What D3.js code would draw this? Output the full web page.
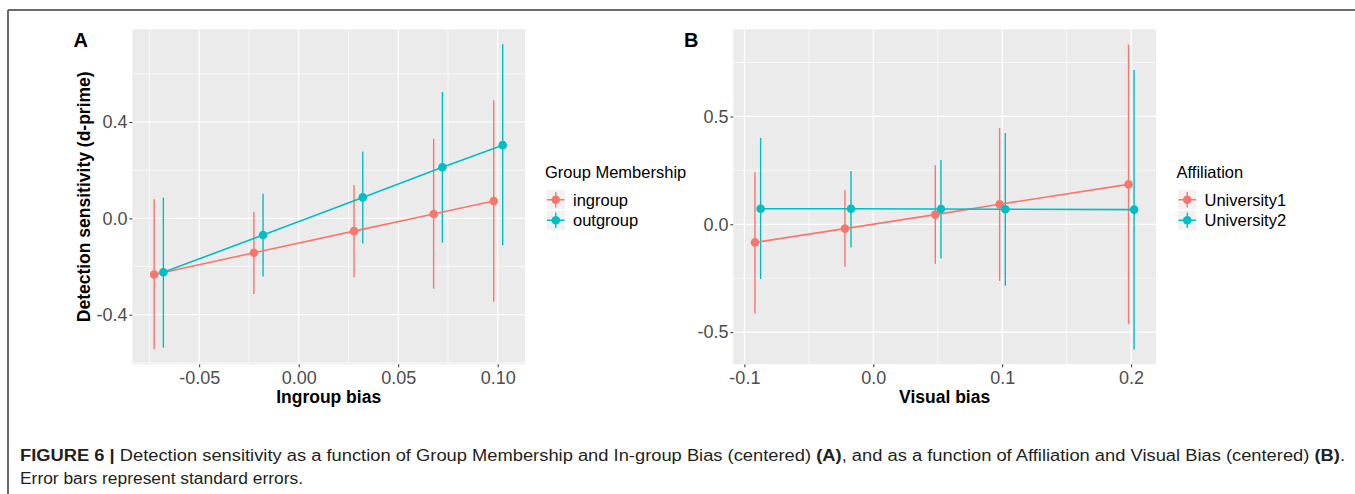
<!DOCTYPE html>
<html><head><meta charset="utf-8">
<script src="https://cdn.jsdelivr.net/npm/d3@7"></script>
<style>
html,body{margin:0;padding:0;background:#fff;}
svg{display:block;font-family:"Liberation Sans",Arial,sans-serif;}
</style></head>
<body>
<svg id="chart" width="1355" height="494"></svg>
<script>
// ---------- Data ----------
// Panel A: Group Membership
const groupsA = ["ingroup", "outgroup"];
const xTicksA = [-0.05, 0.00, 0.05, 0.10];
const xTickLabelsA = ["-0.05", "0.00", "0.05", "0.10"];
const yTicksA = [-0.4, 0.0, 0.4];
const yTickLabelsA = ["-0.4", "0.0", "0.4"];
const ingroupX  = [-0.0726, -0.0225, 0.0278, 0.0678, 0.0980];
const ingroupY  = [-0.233, -0.143, -0.053, 0.018, 0.072];
const ingroupLo = [-0.544, -0.314, -0.245, -0.292, -0.346];
const ingroupHi = [0.079, 0.027, 0.138, 0.329, 0.490];
const outgroupX  = [-0.0680, -0.0179, 0.0322, 0.0722, 0.1025];
const outgroupY  = [-0.224, -0.069, 0.087, 0.212, 0.304];
const outgroupLo = [-0.537, -0.241, -0.104, -0.101, -0.112];
const outgroupHi = [0.086, 0.102, 0.278, 0.525, 0.723];

// Panel B: Affiliation
const groupsB = ["University1", "University2"];
const xTicksB = [-0.1, 0.0, 0.1, 0.2];
const xTickLabelsB = ["-0.1", "0.0", "0.1", "0.2"];
const yTicksB = [-0.5, 0.0, 0.5];
const yTickLabelsB = ["-0.5", "0.0", "0.5"];
const uni1X  = [-0.0918, -0.0220, 0.0481, 0.0980, 0.1980];
const uni1Y  = [-0.084, -0.020, 0.045, 0.093, 0.185];
const uni1Lo = [-0.413, -0.197, -0.183, -0.263, -0.462];
const uni1Hi = [0.241, 0.158, 0.274, 0.446, 0.834];
const uni2X  = [-0.0874, -0.0173, 0.0525, 0.1024, 0.2023];
const uni2Y  = [0.072, 0.072, 0.071, 0.070, 0.068];
const uni2Lo = [-0.254, -0.107, -0.158, -0.285, -0.580];
const uni2Hi = [0.400, 0.247, 0.298, 0.423, 0.715];

const colors = ["#F8766D", "#00BFC4"];

const svg = d3.select("#chart");

// Frame
svg.append("line").attr("x1", 8).attr("x2", 1355).attr("y1", 10).attr("y2", 10)
  .attr("stroke", "#6b6b6b").attr("stroke-width", 2);
svg.append("line").attr("x1", 8).attr("x2", 8).attr("y1", 10).attr("y2", 494)
  .attr("stroke", "#6b6b6b").attr("stroke-width", 2);

function series(xs, ys, lo, hi) {
  return xs.map((x, i) => ({x, y: ys[i], lo: lo[i], hi: hi[i]}));
}

function drawPanel(cfg) {
  const x = d3.scaleLinear().domain(cfg.xDomain).range([cfg.left, cfg.right]);
  const y = d3.scaleLinear().domain(cfg.yDomain).range([cfg.bottom, cfg.top]);
  const g = svg.append("g");

  g.append("rect").attr("x", cfg.left).attr("y", cfg.top)
    .attr("width", cfg.right - cfg.left).attr("height", cfg.bottom - cfg.top)
    .attr("fill", "#ebebeb");

  // minor grid
  g.selectAll(".mx").data(cfg.xMinor).enter().append("line")
    .attr("x1", d => x(d)).attr("x2", d => x(d)).attr("y1", cfg.top).attr("y2", cfg.bottom)
    .attr("stroke", "#fff").attr("stroke-width", 0.6);
  g.selectAll(".my").data(cfg.yMinor).enter().append("line")
    .attr("y1", d => y(d)).attr("y2", d => y(d)).attr("x1", cfg.left).attr("x2", cfg.right)
    .attr("stroke", "#fff").attr("stroke-width", 0.6);
  // major grid
  g.selectAll(".Mx").data(cfg.xTicks).enter().append("line")
    .attr("x1", d => x(d)).attr("x2", d => x(d)).attr("y1", cfg.top).attr("y2", cfg.bottom)
    .attr("stroke", "#fff").attr("stroke-width", 1.2);
  g.selectAll(".My").data(cfg.yTicks).enter().append("line")
    .attr("y1", d => y(d)).attr("y2", d => y(d)).attr("x1", cfg.left).attr("x2", cfg.right)
    .attr("stroke", "#fff").attr("stroke-width", 1.2);

  // axes
  const xa = g.append("g").attr("transform", `translate(0,${cfg.bottom})`)
    .call(d3.axisBottom(x).tickValues(cfg.xTicks).tickFormat((d, i) => cfg.xLabels[i])
      .tickSize(3).tickPadding(4.2));
  const ya = g.append("g").attr("transform", `translate(${cfg.left},0)`)
    .call(d3.axisLeft(y).tickValues(cfg.yTicks).tickFormat((d, i) => cfg.yLabels[i])
      .tickSize(3).tickPadding(1.8));
  [xa, ya].forEach(a => {
    a.select(".domain").remove();
    a.selectAll(".tick line").attr("stroke", "#333").attr("stroke-width", 1);
    a.selectAll(".tick text").attr("fill", "#4d4d4d")
      .style("font-size", "18px").style("font-family", "'Liberation Sans',Arial,sans-serif");
  });

  // axis titles
  g.append("text").attr("x", (cfg.left + cfg.right) / 2).attr("y", cfg.bottom + 38.5)
    .attr("text-anchor", "middle").style("font-size", "17.5px").style("font-weight", "bold")
    .attr("fill", "#000").text(cfg.xTitle);
  if (cfg.yTitle) {
    g.append("text").attr("transform", `translate(90,${(cfg.top + cfg.bottom) / 2}) rotate(-90)`)
      .attr("text-anchor", "middle").style("font-size", "17.5px").style("font-weight", "bold")
      .attr("fill", "#000").text(cfg.yTitle);
  }

  // panel tag
  g.append("text").attr("x", cfg.tagX).attr("y", 46.7).style("font-size", "20px")
    .style("font-weight", "bold").attr("fill", "#000").text(cfg.tag);

  // data
  cfg.series.forEach((s, k) => {
    const col = colors[k];
    g.selectAll(null).data(s).enter().append("line")
      .attr("x1", d => x(d.x)).attr("x2", d => x(d.x))
      .attr("y1", d => y(d.lo)).attr("y2", d => y(d.hi))
      .attr("stroke", col).attr("stroke-width", 1.4);
  });
  cfg.series.forEach((s, k) => {
    g.append("path").datum(s)
      .attr("d", d3.line().x(d => x(d.x)).y(d => y(d.y)))
      .attr("fill", "none").attr("stroke", colors[k]).attr("stroke-width", 1.6);
  });
  cfg.series.forEach((s, k) => {
    g.selectAll(null).data(s).enter().append("circle")
      .attr("cx", d => x(d.x)).attr("cy", d => y(d.y)).attr("r", 4.3)
      .attr("fill", colors[k]);
  });

  // legend
  const lg = svg.append("g");
  lg.append("text").attr("x", cfg.legX).attr("y", 178.3).style("font-size", "16.5px")
    .attr("fill", "#000").text(cfg.legTitle);
  cfg.groups.forEach((name, k) => {
    const ky = 189.5 + k * 20.5;
    const kx = cfg.legX + 1;
    lg.append("rect").attr("x", kx).attr("y", ky).attr("width", 19.5).attr("height", 20.5)
      .attr("fill", "#f2f2f2").attr("stroke", "#fff").attr("stroke-width", 1);
    const cx = kx + 9.75, cy = ky + 10.25;
    lg.append("line").attr("x1", kx + 1).attr("x2", kx + 18.5).attr("y1", cy).attr("y2", cy)
      .attr("stroke", colors[k]).attr("stroke-width", 1.5);
    lg.append("line").attr("x1", cx).attr("x2", cx).attr("y1", ky + 2.5).attr("y2", ky + 18)
      .attr("stroke", colors[k]).attr("stroke-width", 1.4);
    lg.append("circle").attr("cx", cx).attr("cy", cy).attr("r", 4.3).attr("fill", colors[k]);
    lg.append("text").attr("x", cfg.legX + 28).attr("y", cy + 6).style("font-size", "16.5px")
      .attr("fill", "#000").text(name);
  });
}

drawPanel({
  left: 132.3, right: 525, top: 29.3, bottom: 364.3,
  xDomain: [-0.0836, 0.1137], yDomain: [-0.606, 0.785],
  xTicks: xTicksA, xLabels: xTickLabelsA, yTicks: yTicksA, yLabels: yTickLabelsA,
  xMinor: [-0.075, -0.025, 0.025, 0.075], yMinor: [-0.6, -0.2, 0.2, 0.6],
  xTitle: "Ingroup bias", yTitle: "Detection sensitivity (d-prime)",
  tag: "A", tagX: 73.5,
  series: [series(ingroupX, ingroupY, ingroupLo, ingroupHi),
           series(outgroupX, outgroupY, outgroupLo, outgroupHi)],
  groups: groupsA, legTitle: "Group Membership", legX: 545
});

drawPanel({
  left: 733.3, right: 1156, top: 29.3, bottom: 364.3,
  xDomain: [-0.1086, 0.2193], yDomain: [-0.649, 0.904],
  xTicks: xTicksB, xLabels: xTickLabelsB, yTicks: yTicksB, yLabels: yTickLabelsB,
  xMinor: [-0.05, 0.05, 0.15], yMinor: [-0.25, 0.25, 0.75],
  xTitle: "Visual bias", yTitle: null,
  tag: "B", tagX: 684,
  series: [series(uni1X, uni1Y, uni1Lo, uni1Hi),
           series(uni2X, uni2Y, uni2Lo, uni2Hi)],
  groups: groupsB, legTitle: "Affiliation", legX: 1176.5
});

// Caption
const cap1 = svg.append("text").attr("x", 20).attr("y", 461).style("font-size", "16px")
  .attr("fill", "#231f20");
cap1.append("tspan").style("font-weight", "bold").text("FIGURE 6 | ");
cap1.append("tspan").text("Detection sensitivity as a function of Group Membership and In-group Bias (centered) ");
cap1.append("tspan").style("font-weight", "bold").text("(A)");
cap1.append("tspan").text(", and as a function of Affiliation and Visual Bias (centered) ");
cap1.append("tspan").style("font-weight", "bold").text("(B)");
cap1.append("tspan").text(".");
cap1.attr("textLength", 1325).attr("lengthAdjust", "spacingAndGlyphs");

const cap2 = svg.append("text").attr("x", 20).attr("y", 484).style("font-size", "16px")
  .attr("fill", "#231f20").text("Error bars represent standard errors.");
cap2.attr("textLength", 283).attr("lengthAdjust", "spacingAndGlyphs");
</script>
</body></html>
